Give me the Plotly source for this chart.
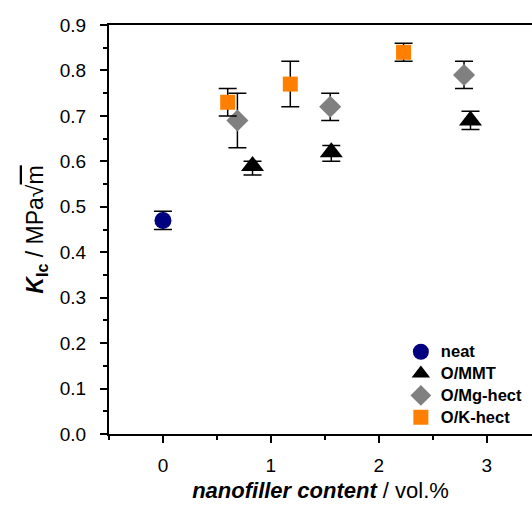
import plotly.graph_objects as go

# Data
neat_x = [0.0]
neat_y = [0.47]
neat_err = [0.02]

mmt_x = [0.83, 1.56, 2.85]
mmt_y = [0.59, 0.62, 0.69]
mmt_err_up = [0.01, 0.015, 0.02]
mmt_err_dn = [0.02, 0.02, 0.02]

mg_x = [0.69, 1.55, 2.79]
mg_y = [0.69, 0.72, 0.79]
mg_err_up = [0.06, 0.03, 0.03]
mg_err_dn = [0.06, 0.03, 0.03]

k_x = [0.60, 1.18, 2.23]
k_y = [0.73, 0.77, 0.84]
k_err_up = [0.03, 0.05, 0.02]
k_err_dn = [0.03, 0.05, 0.02]

series_names = ["neat", "O/MMT", "O/Mg-hect", "O/K-hect"]

x_ticks = [0, 1, 2, 3]
y_ticks = [0.0, 0.1, 0.2, 0.3, 0.4, 0.5, 0.6, 0.7, 0.8, 0.9]

FONT = "Liberation Sans, Arial, sans-serif"

def ebar(up, dn):
    return dict(type="data", symmetric=False, array=up, arrayminus=dn,
                color="black", thickness=1.5, width=9)

def lname(s):
    return f"<span style='font-size:16.5px'><b>{s}</b></span>"

fig = go.Figure()
fig.add_trace(go.Scatter(x=neat_x, y=neat_y, mode="markers", name=lname(series_names[0]),
                         marker=dict(symbol="circle", size=17, color="#000080"),
                         error_y=ebar(neat_err, neat_err)))
fig.add_trace(go.Scatter(x=mmt_x, y=mmt_y, mode="markers", name=lname(series_names[1]),
                         marker=dict(symbol="triangle-up", size=20, color="black"),
                         error_y=ebar(mmt_err_up, mmt_err_dn)))
fig.add_trace(go.Scatter(x=mg_x, y=mg_y, mode="markers", name=lname(series_names[2]),
                         marker=dict(symbol="diamond", size=17, color="#808080"),
                         error_y=ebar(mg_err_up, mg_err_dn)))
fig.add_trace(go.Scatter(x=k_x, y=k_y, mode="markers", name=lname(series_names[3]),
                         marker=dict(symbol="square", size=15, color="#FF8000"),
                         error_y=ebar(k_err_up, k_err_dn)))

fig.update_layout(
    width=532, height=505,
    margin=dict(l=109, r=0, t=25, b=71),
    plot_bgcolor="white", paper_bgcolor="white",
    font=dict(family=FONT, color="black"),
    showlegend=True,
    legend=dict(x=0.69, y=0.24, xanchor="left", yanchor="top",
                bgcolor="rgba(0,0,0,0)", font=dict(size=14.5),
                itemsizing="trace", tracegroupgap=0),
)
fig.update_xaxes(
    range=[-0.5, 3.42], showgrid=False, zeroline=False,
    showline=True, linecolor="black", linewidth=2, mirror=True,
    ticks="outside", ticklen=7, tickwidth=2, tickcolor="black",
    tickvals=x_ticks, ticktext=[str(v) for v in x_ticks],
    tickfont=dict(size=19), ticklabelstandoff=6,
    minor=dict(ticks="outside", ticklen=4, tickwidth=2, tickcolor="black", dtick=0.5, showgrid=False),
    title=dict(text="<b><i>nanofiller content</i></b> / vol.%", font=dict(size=22), standoff=8),
)
fig.update_yaxes(
    range=[0, 0.9], showgrid=False, zeroline=False,
    showline=True, linecolor="black", linewidth=2, mirror=False,
    ticks="outside", ticklen=7, tickwidth=2, tickcolor="black",
    tickvals=y_ticks, ticktext=[f"{v:.1f}" for v in y_ticks],
    tickfont=dict(size=19), ticklabelstandoff=10,
    minor=dict(ticks="outside", ticklen=4, tickwidth=2, tickcolor="black", dtick=0.05, showgrid=False),
    title=dict(text="<b><i>K</i><sub>Ic</sub></b> / MPa√<span style='text-decoration:overline'>m</span>",
               font=dict(size=23), standoff=10),
)

fig.write_html("out.html")
